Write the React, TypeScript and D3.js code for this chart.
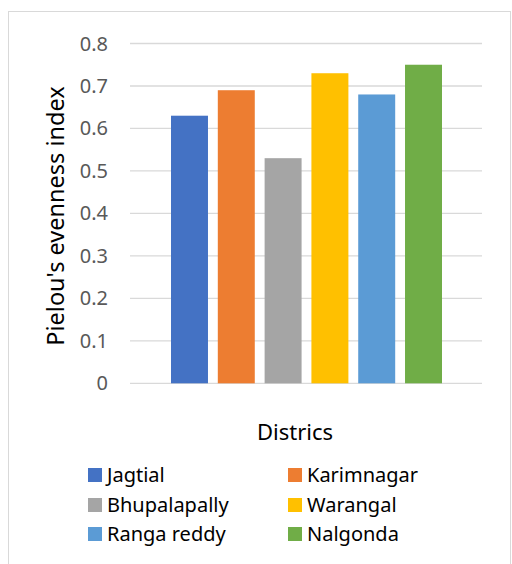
import React from "react";
import * as d3 from "d3";

const districts = ["Jagtial", "Karimnagar", "Bhupalapally", "Warangal", "Ranga reddy", "Nalgonda"];
const values = [0.63, 0.69, 0.53, 0.73, 0.68, 0.75];
const colors = ["#4472C4", "#ED7D31", "#A5A5A5", "#FFC000", "#5B9BD5", "#70AD47"];
const yTicks = [0, 0.1, 0.2, 0.3, 0.4, 0.5, 0.6, 0.7, 0.8];
const yTitle = "Pielou's evenness index";
const xTitle = "Districs";

const FONT = "'Noto Sans', 'Open Sans', sans-serif";

export default function App() {
  const W = 512, H = 564;
  const plotLeft = 130, plotRight = 482;
  const y = d3.scaleLinear().domain([0, 0.8]).range([383.3, 43.5]);
  const x = d3.scaleBand<string>().domain(districts).range([171, 442]).paddingInner(0.21).paddingOuter(0);
  const legendCols = [88, 288];
  const legendRows = [475, 505, 534];

  return (
    <svg width={W} height={H} style={{ position: "absolute", left: 0, top: 0 }} fontFamily={FONT}>
      <rect x={0} y={0} width={W} height={H} fill="#fff" />
      <rect x={8.5} y={11.5} width={502} height={560} fill="#fff" stroke="#d9d9d9" strokeWidth={1} />
      {yTicks.map((t) => (
        <line key={t} x1={plotLeft} x2={plotRight} y1={y(t)} y2={y(t)} stroke="#d9d9d9" strokeWidth={1.3} />
      ))}
      {yTicks.map((t) => (
        <text key={"l" + t} x={108} y={y(t)} dy="0.35em" textAnchor="end" fontSize={20} fill="#595959">
          {t === 0 ? "0" : d3.format(".1f")(t)}
        </text>
      ))}
      {districts.map((d, i) => (
        <rect key={d} x={x(d)} y={y(values[i])} width={x.bandwidth()} height={y(0) - y(values[i])} fill={colors[i]} />
      ))}
      <text transform={`translate(56,216) rotate(-90)`} textAnchor="middle" dy="0.35em" fontSize={23.5} fill="#000">
        {yTitle}
      </text>
      <text x={295} y={440} textAnchor="middle" fontSize={22} fill="#000">
        {xTitle}
      </text>
      {districts.map((d, i) => {
        const cx = legendCols[i % 2];
        const cy = legendRows[Math.floor(i / 2)];
        return (
          <g key={"lg" + d}>
            <rect x={cx} y={cy - 7} width={14} height={14} fill={colors[i]} />
            <text x={cx + 19} y={cy} dy="0.35em" fontSize={20} fill="#000">
              {d}
            </text>
          </g>
        );
      })}
    </svg>
  );
}
